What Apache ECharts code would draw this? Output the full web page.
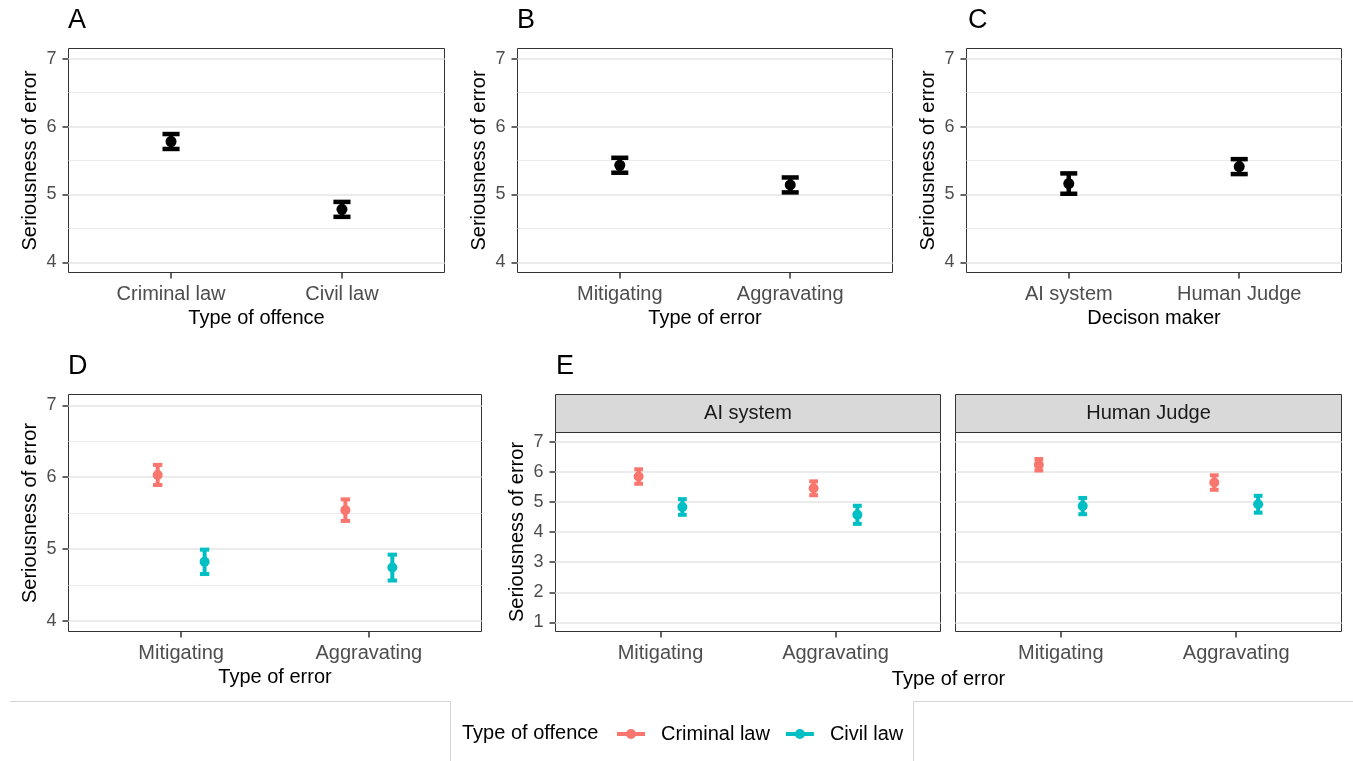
<!DOCTYPE html>
<html><head><meta charset="utf-8">
<script src="https://cdn.jsdelivr.net/npm/echarts@6/dist/echarts.min.js"></script>
<style>html,body{margin:0;padding:0;background:#fff}#c{width:1353px;height:761px}</style>
</head><body><div id="c"></div>
<script>
// ---------------- DATA ----------------
const offenceTypes = ['Criminal law', 'Civil law'];
const errorTypes = ['Mitigating', 'Aggravating'];
const decisionMakers = ['AI system', 'Human Judge'];

// Panel A: by type of offence (mean, +/- error)
const aMean = [5.78, 4.78];
const aErr  = [0.11, 0.11];
// Panel B: by type of error
const bMean = [5.43, 5.14];
const bErr  = [0.11, 0.11];
// Panel C: by decision maker
const cMean = [5.16, 5.41];
const cErr  = [0.15, 0.11];
// Panel D: type of error x type of offence
const dCriminalMean = [6.03, 5.54];
const dCriminalErr  = [0.14, 0.15];
const dCivilMean    = [4.82, 4.74];
const dCivilErr     = [0.17, 0.18];
// Panel E: AI system facet
const eAICriminalMean = [5.84, 5.45];
const eAICriminalErr  = [0.24, 0.23];
const eAICivilMean    = [4.83, 4.57];
const eAICivilErr     = [0.26, 0.30];
// Panel E: Human Judge facet
const eHJCriminalMean = [6.23, 5.64];
const eHJCriminalErr  = [0.19, 0.24];
const eHJCivilMean    = [4.86, 4.92];
const eHJCivilErr     = [0.27, 0.28];

const yTicksTop  = [4, 5, 6, 7];
const yMinorTop  = [4.5, 5.5, 6.5];
const yTicksE    = [1, 2, 3, 4, 5, 6, 7];
const panelTags  = ['A', 'B', 'C', 'D', 'E'];
const yTitle     = 'Seriousness of error';
const xTitles    = ['Type of offence', 'Type of error', 'Decison maker', 'Type of error', 'Type of error'];
const legendTitle = 'Type of offence';

// ---------------- STYLE / LAYOUT ----------------
const FONT = "'Liberation Sans', Arial, Helvetica, sans-serif";
const COL_CRIM = '#F8766D', COL_CIV = '#00BFC4', COL_BLACK = '#000000';
const grids = [
  {left: 68.5,  top: 48.5,  width: 376, height: 224},
  {left: 517.5, top: 48.5,  width: 375, height: 224},
  {left: 966.5, top: 48.5,  width: 375, height: 224},
  {left: 68.5,  top: 394.5, width: 413, height: 237},
  {left: 555.5, top: 432.5, width: 385, height: 199},
  {left: 955.5, top: 432.5, width: 386, height: 199}
];
const STRIP_TOP = 394.5;
const panelCats = [offenceTypes, errorTypes, decisionMakers, errorTypes, errorTypes, errorTypes];

const chart = echarts.init(document.getElementById('c'), null, {renderer: 'canvas'});

const gridOpts = grids.map(g => Object.assign({
  show: true, borderColor: '#333333', borderWidth: 1, backgroundColor: 'transparent',
  containLabel: false, outerBoundsMode: 'none'
}, g));

const xAxes = grids.map((g, i) => ({
  type: 'value', gridIndex: i, min: 0.4, max: 2.6,
  axisLine: {show: false}, splitLine: {show: false},
  axisTick: {show: true, customValues: [1, 2], length: 6, lineStyle: {color: '#333333', width: 1.5}},
  axisLabel: {show: true, customValues: [1, 2], margin: 12, fontSize: 20, fontFamily: FONT, color: '#4D4D4D',
              formatter: v => panelCats[i][Math.round(v) - 1]},
  name: i < 4 ? xTitles[i] : '', nameLocation: 'middle', nameGap: 36,
  nameTextStyle: {fontSize: 20, fontFamily: FONT, color: '#000000'}
}));

const yAxes = grids.map((g, i) => {
  const isE = i >= 4;
  const ticks = isE ? yTicksE : yTicksTop;
  return {
    type: 'value', gridIndex: i,
    min: isE ? 0.7 : 3.85, max: isE ? 7.3 : 7.15,
    axisLine: {show: false}, splitLine: {show: false},
    axisTick: {show: i !== 5, customValues: ticks, length: 6, lineStyle: {color: '#333333', width: 1.5}},
    axisLabel: {show: i !== 5, customValues: ticks, margin: 12, fontSize: 18, fontFamily: FONT, color: '#4D4D4D'},
    name: i === 5 ? '' : yTitle, nameLocation: 'middle', nameGap: 28, nameRotate: 90,
    nameTextStyle: {fontSize: 20, fontFamily: FONT, color: '#000000'}
  };
});

// Gridlines (major + minor) as markLines on empty series, drawn beneath points
function gridSeries(i) {
  const isE = i >= 4;
  const major = (isE ? yTicksE : yTicksTop).map(v => ({yAxis: v, lineStyle: {width: 2}}));
  const minor = isE ? [] : yMinorTop.map(v => ({yAxis: v, lineStyle: {width: 1.1}}));
  return {
    type: 'line', xAxisIndex: i, yAxisIndex: i, data: [], z: 1, silent: true,
    markLine: {silent: true, symbol: ['none', 'none'], animation: false,
      label: {show: false}, lineStyle: {color: '#EBEBEB', type: 'solid'},
      data: major.concat(minor)}
  };
}

function ebSeries(name, gi, means, errs, offset, color, capHalf, lw, r) {
  return {
    type: 'custom', name: name, xAxisIndex: gi, yAxisIndex: gi, z: 5,
    itemStyle: {color: color}, animation: false,
    data: means.map((m, k) => [k + 1 + offset, m, m - errs[k], m + errs[k]]),
    encode: {x: 0, y: [1, 2, 3]},
    renderItem: (params, api) => {
      const x = api.value(0), m = api.value(1), lo = api.value(2), hi = api.value(3);
      const pM = api.coord([x, m]), pL = api.coord([x, lo]), pH = api.coord([x, hi]);
      const hw = api.size([capHalf, 0])[0];
      const st = {stroke: color, lineWidth: lw, lineCap: 'butt'};
      return {type: 'group', children: [
        {type: 'line', shape: {x1: pM[0], y1: pL[1], x2: pM[0], y2: pH[1]}, style: st},
        {type: 'line', shape: {x1: pM[0] - hw, y1: pL[1], x2: pM[0] + hw, y2: pL[1]}, style: st},
        {type: 'line', shape: {x1: pM[0] - hw, y1: pH[1], x2: pM[0] + hw, y2: pH[1]}, style: st},
        {type: 'circle', shape: {cx: pM[0], cy: pM[1], r: r}, style: {fill: color}}
      ]};
    }
  };
}

const DODGE = 0.125;
const series = [];
for (let i = 0; i < 6; i++) series.push(gridSeries(i));
series.push(ebSeries('A', 0, aMean, aErr, 0, COL_BLACK, 0.05, 4.5, 5.5));
series.push(ebSeries('B', 1, bMean, bErr, 0, COL_BLACK, 0.05, 4.5, 5.5));
series.push(ebSeries('C', 2, cMean, cErr, 0, COL_BLACK, 0.05, 4.5, 5.5));
series.push(ebSeries(offenceTypes[0], 3, dCriminalMean, dCriminalErr, -DODGE, COL_CRIM, 0.025, 4, 5));
series.push(ebSeries(offenceTypes[1], 3, dCivilMean, dCivilErr, DODGE, COL_CIV, 0.025, 4, 5));
series.push(ebSeries(offenceTypes[0], 4, eAICriminalMean, eAICriminalErr, -DODGE, COL_CRIM, 0.025, 4, 5));
series.push(ebSeries(offenceTypes[1], 4, eAICivilMean, eAICivilErr, DODGE, COL_CIV, 0.025, 4, 5));
series.push(ebSeries(offenceTypes[0], 5, eHJCriminalMean, eHJCriminalErr, -DODGE, COL_CRIM, 0.025, 4, 5));
series.push(ebSeries(offenceTypes[1], 5, eHJCivilMean, eHJCivilErr, DODGE, COL_CIV, 0.025, 4, 5));

// Graphic elements: tags, strips, shared E x-title, legend title and frame
const tagPos = [[68, 21], [517, 21], [968, 21], [68, 367], [556, 367]];
const graphics = [];
panelTags.forEach((t, k) => graphics.push({
  type: 'text', x: tagPos[k][0], y: tagPos[k][1],
  style: {text: t, fontSize: 27, fontFamily: FONT, fill: '#000', textAlign: 'left', textVerticalAlign: 'middle'}
}));
[4, 5].forEach((gi, k) => {
  const g = grids[gi];
  graphics.push({type: 'rect', shape: {x: g.left, y: STRIP_TOP, width: g.width, height: g.top - STRIP_TOP},
    style: {fill: '#D9D9D9', stroke: '#333333', lineWidth: 1}});
  graphics.push({type: 'text', x: g.left + g.width / 2, y: STRIP_TOP + (g.top - STRIP_TOP) / 2,
    style: {text: decisionMakers[k], fontSize: 20, fontFamily: FONT, fill: '#1A1A1A', textAlign: 'center', textVerticalAlign: 'middle'}});
});
graphics.push({type: 'text', x: (grids[4].left + grids[5].left + grids[5].width) / 2, y: 679,
  style: {text: xTitles[4], fontSize: 20, fontFamily: FONT, fill: '#000', textAlign: 'center', textVerticalAlign: 'middle'}});
graphics.push({type: 'text', x: 462, y: 733,
  style: {text: legendTitle, fontSize: 20, fontFamily: FONT, fill: '#000', textAlign: 'left', textVerticalAlign: 'middle'}});
const frameStyle = {stroke: '#D6D6D6', lineWidth: 1};
graphics.push({type: 'polyline', shape: {points: [[10, 701.5], [450.5, 701.5], [450.5, 761]]}, style: frameStyle});
graphics.push({type: 'polyline', shape: {points: [[1353, 701.5], [913.5, 701.5], [913.5, 761]]}, style: frameStyle});

chart.setOption({
  animation: false,
  backgroundColor: '#ffffff',
  textStyle: {fontFamily: FONT},
  grid: gridOpts,
  xAxis: xAxes,
  yAxis: yAxes,
  legend: {
    data: offenceTypes, left: 617, top: 724, orient: 'horizontal', padding: 0,
    itemWidth: 28, itemHeight: 10, itemGap: 16,
    icon: 'path://M0,3 L28,3 L28,7 L0,7 Z M19,5 A5,5 0 1 1 9,5 A5,5 0 1 1 19,5 Z',
    textStyle: {fontSize: 20, fontFamily: FONT, color: '#000', padding: [0, 0, 0, 11]},
    selectedMode: false
  },
  graphic: graphics,
  series: series
});
</script>
</body></html>
